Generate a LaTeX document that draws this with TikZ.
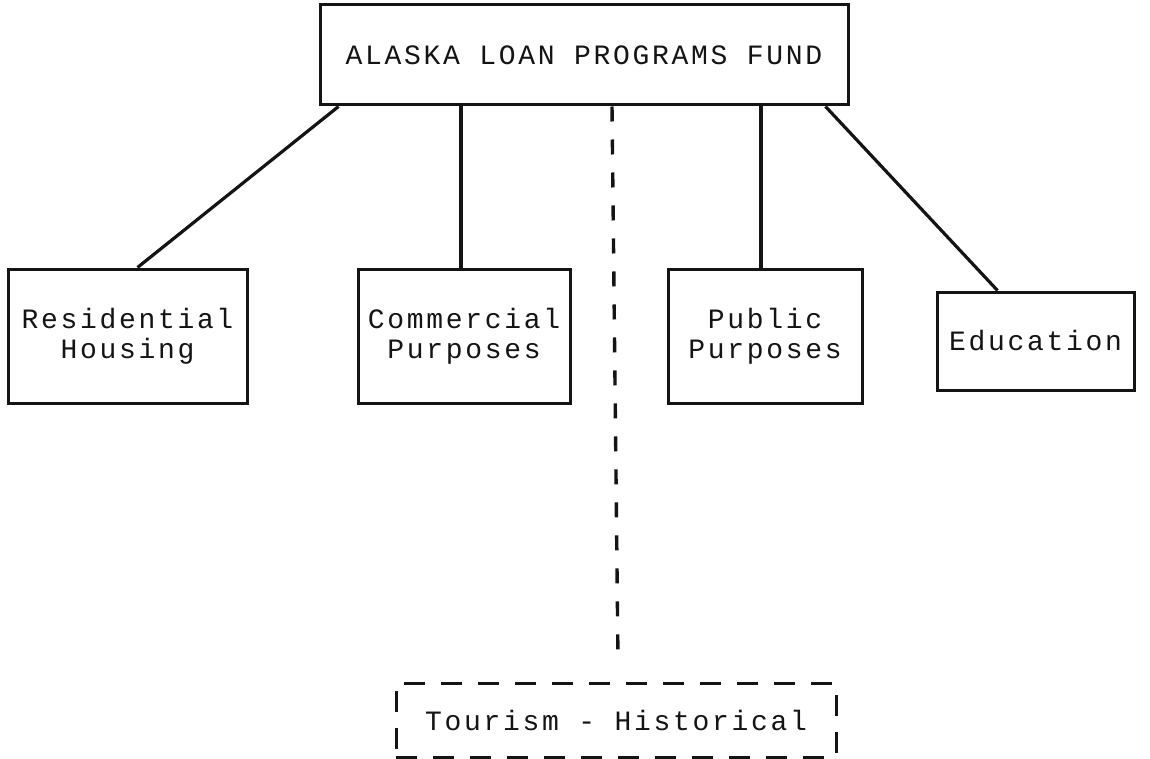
\documentclass[tikz,border=0pt]{standalone}
\usepackage{fontspec}
\setmonofont{Liberation Mono}[LetterSpace=9.6]
\usepackage{tikz}
\definecolor{white}{rgb}{1.0, 1.0, 1.0}
\definecolor{black}{rgb}{0.0, 0.0, 0.0}
\definecolor{ink}{RGB}{20,20,20}
\pgfdeclarelayer{edgelayer}
\pgfdeclarelayer{nodelayer}
\pgfsetlayers{edgelayer,nodelayer,main}
\tikzstyle{box}=[rectangle,draw=ink,line width=3pt,fill=white,align=center,inner sep=0pt,font=\ttfamily\fontsize{28}{30}\selectfont,text=ink]
\tikzstyle{dbox}=[box,dash pattern=on 21pt off 16pt]
\tikzstyle{link}=[draw=ink,line width=3.2pt]

\begin{document}
\begin{tikzpicture}[x=1pt,y=-1pt]
        \useasboundingbox (0, 0) rectangle (1150, 759);
        \begin{pgfonlayer}{nodelayer}
            \node [style = box, minimum width=528pt, minimum height=100pt] (fund) at (584, 55) {ALASKA LOAN PROGRAMS FUND};

            \node [style = box, minimum width=239pt, minimum height=134pt] (res) at (127.5, 336) {Residential\\Housing};
            \node [style = box, minimum width=212pt, minimum height=134pt] (com) at (464, 336) {Commercial\\Purposes};
            \node [style = box, minimum width=194pt, minimum height=134pt] (pub) at (765, 336) {Public\\Purposes};
            \node [style = box, minimum width=197pt, minimum height=98pt] (edu) at (1035.5, 341) {Education};

            \node [style = dbox, minimum width=440pt, minimum height=74pt] (tour) at (616, 720) {Tourism - Historical};
            \coordinate (tourtop) at (618, 660);
        \end{pgfonlayer}

        \begin{pgfonlayer}{edgelayer}
            \draw [style = link] ([xshift=20pt]fund.south west) to ([xshift=10pt]res.north);
            \draw [style = link] (fund.south -| 461, 0) to (com.north -| 461, 0);
            \draw [style = link] (fund.south -| 761, 0) to (pub.north -| 761, 0);
            \draw [style = link] ([xshift=-24pt]fund.south east) to ([xshift=-38pt]edu.north);

            \draw [style = link, line width=3.4pt, dash pattern=on 15pt off 18pt] ([xshift=28pt]fund.south) to (tourtop);
        \end{pgfonlayer}
    \end{tikzpicture}
\end{document}
